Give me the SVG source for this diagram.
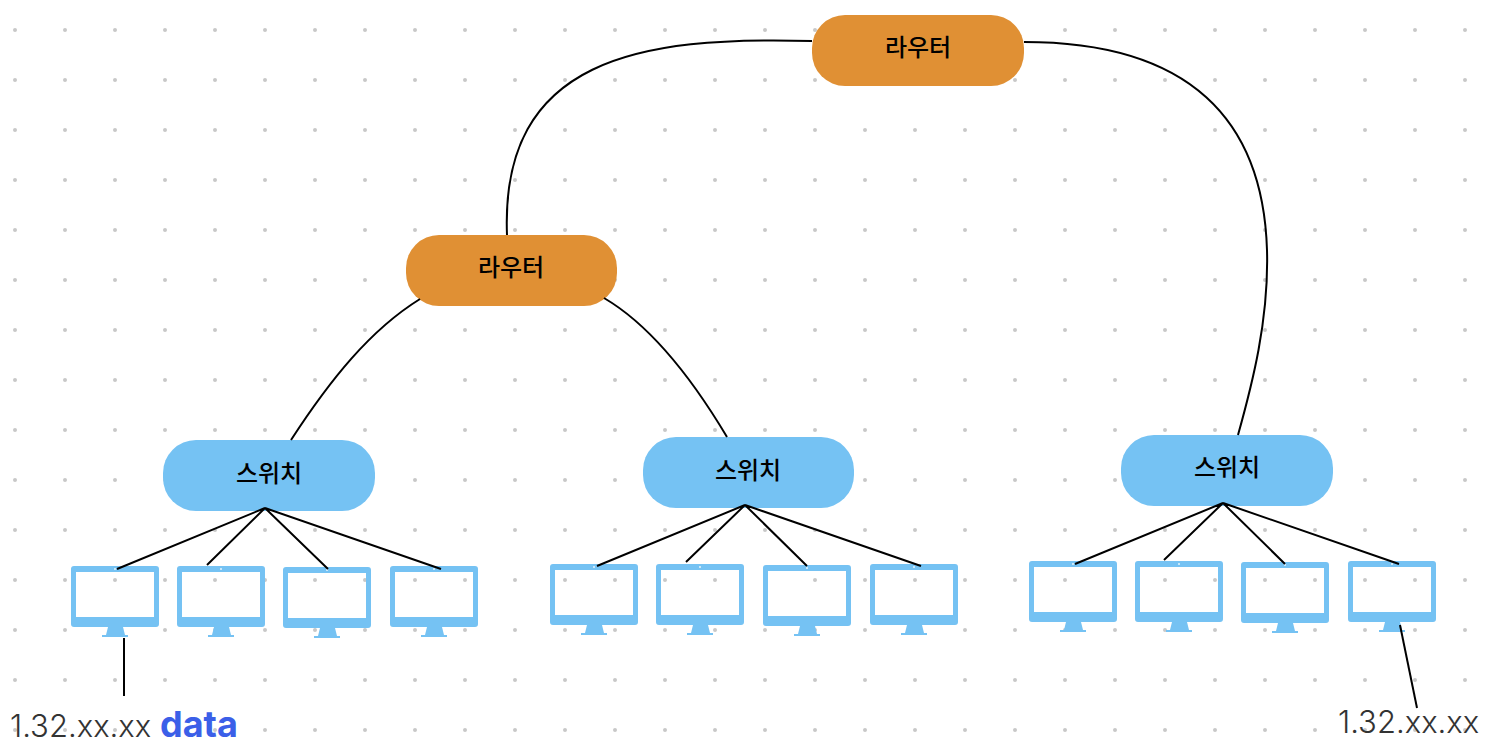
<svg xmlns="http://www.w3.org/2000/svg" width="1500" height="756" viewBox="0 0 1500 756">
<style>
.conn{fill:none;stroke:#000;stroke-width:2}
.router{fill:#e09034}
.switch{fill:#75c2f3}
.mon{fill:#75c2f3}
.lbl{font-family:"Noto Sans CJK KR","Noto Sans",sans-serif;font-size:24px;font-weight:500;fill:#000;text-anchor:middle}
.ip{font-family:Inter,"Liberation Sans",sans-serif;font-size:31px;font-weight:300;fill:#333}
.data{font-family:Inter,"Liberation Sans",sans-serif;font-size:36px;font-weight:700;fill:#3b5fe8}
</style>
<defs>
<pattern id="dots" x="-10" y="5" width="50" height="50" patternUnits="userSpaceOnUse"><circle cx="25" cy="25" r="2" fill="#c8c8c8"/></pattern>
<symbol id="monitor" width="88" height="72" viewBox="0 0 88 72" overflow="visible">
<path class="mon" fill-rule="evenodd" d="M3 0H85Q88 0 88 3V58Q88 61 85 61H3Q0 61 0 58V3Q0 0 3 0ZM5 6V51H83V6Z"/>
<path class="mon" d="M37 61H52L54 69H57V71H31V69H35Z"/>
<circle cx="44" cy="3" r="1" fill="#e6f4fd"/>
</symbol>
</defs>
<rect id="grid" width="1500" height="756" fill="url(#dots)"/>
<g id="router-top"><rect class="router" x="812" y="15" width="212" height="71" rx="33"/><text class="lbl" x="918" y="56">라우터</text></g>
<g id="router-mid"><rect class="router" x="406" y="235" width="211" height="71" rx="33"/><text class="lbl" x="511" y="276">라우터</text></g>
<g id="switch-1"><rect class="switch" x="163" y="440" width="212" height="71" rx="33"/><text class="lbl" x="269" y="482">스위치</text></g>
<g id="switch-2"><rect class="switch" x="643" y="437" width="211" height="71" rx="33"/><text class="lbl" x="748" y="479">스위치</text></g>
<g id="switch-3"><rect class="switch" x="1121" y="435" width="212" height="71" rx="33"/><text class="lbl" x="1227" y="476">스위치</text></g>
<g id="pc-1-1"><use href="#monitor" x="71" y="566"/></g>
<g id="pc-1-2"><use href="#monitor" x="177" y="566"/></g>
<g id="pc-1-3"><use href="#monitor" x="283" y="567"/></g>
<g id="pc-1-4"><use href="#monitor" x="390" y="566"/></g>
<g id="pc-2-1"><use href="#monitor" x="550" y="564"/></g>
<g id="pc-2-2"><use href="#monitor" x="656" y="564"/></g>
<g id="pc-2-3"><use href="#monitor" x="763" y="565"/></g>
<g id="pc-2-4"><use href="#monitor" x="870" y="564"/></g>
<g id="pc-3-1"><use href="#monitor" x="1029" y="561"/></g>
<g id="pc-3-2"><use href="#monitor" x="1135" y="561"/></g>
<g id="pc-3-3"><use href="#monitor" x="1241" y="562"/></g>
<g id="pc-3-4"><use href="#monitor" x="1348" y="561"/></g>
<g id="connectors">
<path class="conn" d="M812 41C640 36 500 58 507 235"/>
<path class="conn" d="M1024 42C1190 42 1263 120 1267 250C1269 320 1252 385 1238 435"/>
<path class="conn" d="M420 299C370 330 330 380 291 440"/>
<path class="conn" d="M604 298C650 325 690 375 727 437"/>
<path class="conn" d="M117 569L265 508L207 565M265 508L328 569M265 508L441 569"/>
<path class="conn" d="M597 566L745 505L686 562M745 505L807 566M745 505L921 566"/>
<path class="conn" d="M1075 564L1223 503L1164 560M1223 503L1285 564M1223 503L1399 564"/>
<path class="conn" d="M124 638V696"/>
<path class="conn" d="M1400 625L1417 708"/>
</g>
<g id="labels">
<text class="ip" x="10" y="737">1.32.xx.xx</text>
<text class="data" x="160" y="737">data</text>
<text class="ip" x="1338" y="733">1.32.xx.xx</text>
</g>
</svg>
